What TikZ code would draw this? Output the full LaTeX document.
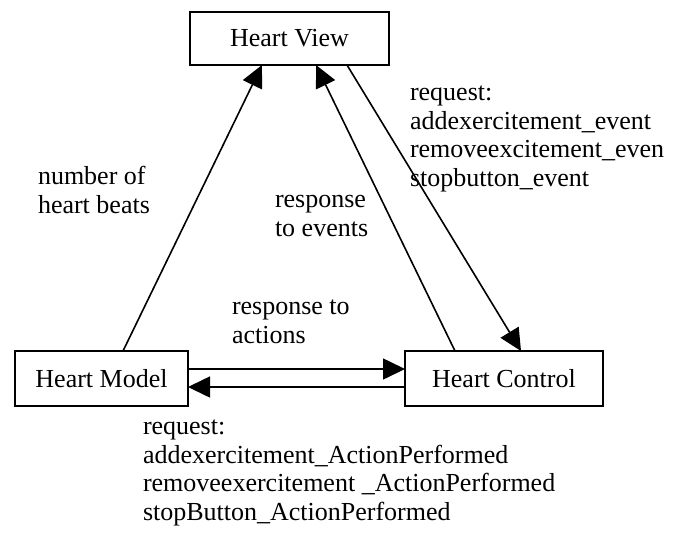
\documentclass[tikz,border=0pt]{standalone}
\usepackage{fontspec}
\setmainfont{Liberation Serif}
\usetikzlibrary{arrows.meta,calc}
\begin{document}
\begin{tikzpicture}[x=1pt,y=-1pt,
  box/.style={draw,line width=1.8pt,inner sep=0pt,outer sep=0pt,font=\fontsize{26}{28.5}\selectfont},
  lbl/.style={inner sep=0pt,outer sep=0pt,anchor=base west,align=left,font=\fontsize{26}{28.5}\selectfont},
  conn/.style={line width=1.6pt,-{Triangle[length=22pt,width=21pt]}}]
\useasboundingbox (0,0) rectangle (683,542);
\node[box,minimum width=199pt,minimum height=53pt] (hv) at (289.5,38.5) {Heart View};
\node[box,minimum width=173pt,minimum height=55pt] (hm) at (101.5,378.5) {Heart Model};
\node[box,minimum width=198pt,minimum height=55pt] (hc) at (504,378.5) {Heart Control};
\draw[conn] ($(hm.north west)+(108,0)$) -- ($(hv.south west)+(72,0)$);
\draw[conn] ($(hc.north west)+(50,0)$) -- ($(hv.south west)+(126,0)$);
\draw[conn] ($(hv.south west)+(157,0)$) -- ($(hc.north west)+(116,0)$);
\draw[conn] ($(hm.north east)+(0,18)$) -- ($(hc.north west)+(0,18)$);
\draw[conn] ($(hc.north west)+(0,36)$) -- ($(hm.north east)+(0,36)$);
\node[lbl] (l1) at (38,213) {number of\\heart beats};
\node[lbl] (l2) at (275,236) {response\\to events};
\node[lbl] (l3) at (232,343) {response to\\actions};
\node[lbl] (l4) at (410,186) {request:\\addexercitement\_event\\removeexcitement\_even\\stopbutton\_event};
\node[lbl] (l5) at (143,520) {request:\\addexercitement\_ActionPerformed\\removeexercitement \_ActionPerformed\\stopButton\_ActionPerformed};
\end{tikzpicture}
\end{document}
